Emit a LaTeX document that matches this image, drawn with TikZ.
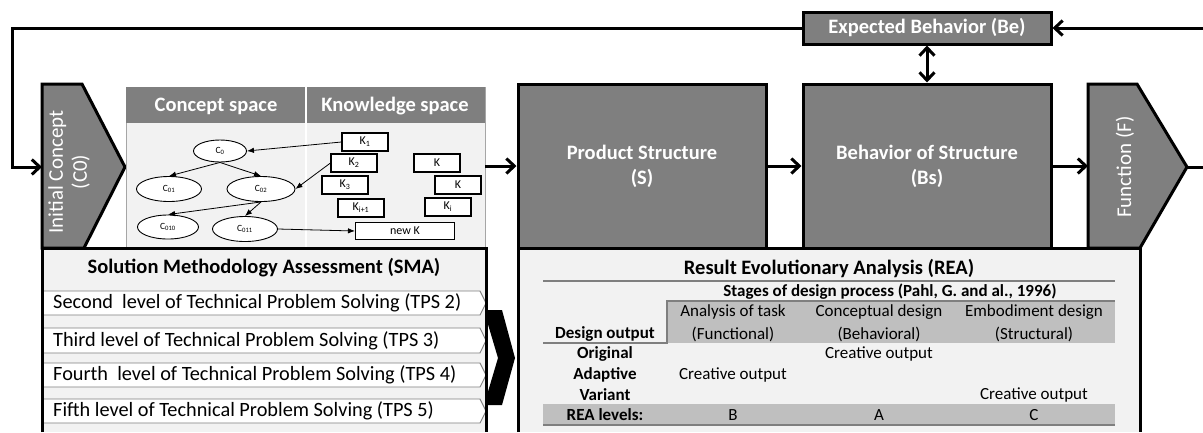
\documentclass[tikz,border=0pt]{standalone}
\usepackage{fontspec}
\setmainfont{Carlito}
\usetikzlibrary{arrows.meta,shapes.geometric}
\definecolor{boxgray}{HTML}{7F7F7F}
\definecolor{panel}{HTML}{F2F2F2}
\definecolor{band}{HTML}{BFBFBF}
\definecolor{rulegray}{HTML}{7F7F7F}
\definecolor{edgegray}{HTML}{A6A6A6}

\begin{document}
\begin{tikzpicture}[x=1pt,y=-1pt,
  heavy/.style={line width=3pt, line join=miter},
  flow/.style={heavy,-{Straight Barb[length=8pt,width=15pt,line width=3pt]}},
  dflow/.style={heavy,{Straight Barb[length=8pt,width=15pt,line width=3pt]}-{Straight Barb[length=8pt,width=15pt,line width=3pt]}},
  gbox/.style={draw, heavy, fill=boxgray, text=white, inner sep=0pt, align=center,
    font=\fontsize{20.5}{25}\selectfont\bfseries},
  vlabel/.style={rotate=90, text=white, align=center, font=\fontsize{21}{24}\selectfont},
  hdr/.style={text=white, font=\fontsize{20.5}{24}\selectfont\bfseries},
  ell/.style={ellipse, draw, line width=0.9pt, fill=white, inner sep=0pt,
    font=\fontsize{9.5}{10}\selectfont},
  kbox/.style={draw, line width=1.1pt, fill=white, inner sep=0pt,
    minimum width=46pt, minimum height=18pt, font=\fontsize{12}{13}\selectfont},
  tarrow/.style={line width=0.8pt, -{Latex[length=7pt,width=5.5pt]}},
  ptitle/.style={font=\fontsize{20.5}{24}\selectfont\bfseries},
  tps/.style={anchor=west, inner sep=0pt, font=\fontsize{20.3}{24}\selectfont},
  bar/.style={draw=rulegray, line width=0.9pt, fill=white},
  tcell/.style={inner sep=0pt, font=\fontsize{17}{20}\selectfont},
  tbold/.style={inner sep=0pt, font=\fontsize{17}{20}\selectfont\bfseries},
  trule/.style={draw=rulegray, line width=2pt}
]
\useasboundingbox (0,0) rectangle (1203,432);

% ---------- top row: boxes ----------
\node[gbox, minimum width=248pt, minimum height=32pt] (be) at (927,28) {Expected Behavior (Be)};
\node[gbox, minimum width=248pt, minimum height=164pt] (ps) at (642,166) {Product Structure\\(S)};
\node[gbox, minimum width=248pt, minimum height=164pt] (bs) at (927,166) {Behavior of Structure\\(Bs)};

% initial concept tag
\draw[heavy, fill=boxgray] (42,84) -- (82,84) -- (125,167) -- (84,248) -- (42,248) -- cycle;
\coordinate (icin) at (42,167);
\node[vlabel] (ictext) at (69,172) {Initial Concept\\(C0)};

% function tag
\draw[heavy, fill=boxgray] (1088,84) -- (1137,84) -- (1187,167) -- (1140,248) -- (1088,248) -- cycle;
\coordinate (fin) at (1088,166);
\coordinate (fpt) at (1187,167);
\coordinate (fout) at (1203,167);
\node[vlabel] (ftext) at (1125,167) {Function (F)};

% ---------- concept / knowledge space panel ----------
\node[draw=edgegray, line width=0.8pt, fill=panel, minimum width=359pt, minimum height=161pt,
  inner sep=0pt] (cpanel) at (305.5,167.5) {};
\fill[boxgray] (126,87) rectangle (485,123);
\draw[white, line width=1.5pt] (306,87) -- (306,247);
\node[hdr] (cs) at (216,106) {Concept space};
\node[hdr] (ks) at (395,106) {Knowledge space};

\node[ell, minimum width=53pt, minimum height=22pt] (c0) at (220,151) {C\textsubscript{0}};
\node[ell, minimum width=65pt, minimum height=25pt] (c01) at (169,189) {C\textsubscript{01}};
\node[ell, minimum width=68pt, minimum height=25pt] (c02) at (261,189) {C\textsubscript{02}};
\node[ell, minimum width=61pt, minimum height=24pt] (c010) at (168,227) {C\textsubscript{010}};
\node[ell, minimum width=65pt, minimum height=25pt] (c011) at (245,229) {C\textsubscript{011}};

\node[kbox] (k1) at (365,142) {K\textsubscript{1}};
\node[kbox] (k2) at (354,163) {K\textsubscript{2}};
\node[kbox] (k3) at (345,185) {K\textsubscript{3}};
\node[kbox] (kip) at (361,208) {K\textsubscript{i+1}};
\node[kbox] (ka) at (437,163) {K};
\node[kbox] (kb) at (458,185) {K};
\node[kbox] (ki) at (448,207) {K\textsubscript{i}};
\node[kbox, minimum width=99pt, minimum height=17pt] (newk) at (405,231) {new K};

\draw[tarrow] (k1.west) -- (c0.east);
\draw[tarrow] (k2.west) -- (c02.east);
\draw[tarrow] (c0.south) -- (c01.north);
\draw[tarrow] (c0.south) -- (c02.north);
\draw[tarrow] (c02.south) -- (c010.north);
\draw[tarrow] (c02.south) -- (c011.north);
\draw[tarrow] (c011.east) -- (newk.west);

% ---------- main connectors ----------
\coordinate (lc) at (12,28);
\coordinate (rin) at (1203,28);
\coordinate (cpo) at (485,166);
\draw[flow] (be.west) -- (lc) |- (icin);
\draw[flow] (rin) -- (be.east);
\draw[dflow] (be.south) -- (bs.north);
\draw[flow] (cpo) -- (ps.west);
\draw[flow] (ps.east) -- (bs.west);
\draw[flow] (bs.east) -- (fin);
\draw[heavy] (fpt) -- (fout);

% ---------- solution methodology assessment ----------
\fill[panel] (42,248) rectangle (486,432);
\node[ptitle] (smat) at (264,268) {Solution Methodology Assessment (SMA)};
\foreach \t/\b in {291/315, 328/353, 363/387, 399/423}
  \draw[bar] (42,\t) -- (480,\t) -- (486,{(\t+\b)/2}) -- (480,\b) -- (42,\b);
\node[tps] (tps2) at (53,303) {Second\ \ level of Technical Problem Solving (TPS 2)};
\node[tps] (tps3) at (53,340.5) {Third level of Technical Problem Solving (TPS 3)};
\node[tps] (tps4) at (53,375) {Fourth\ \ level of Technical Problem Solving (TPS 4)};
\node[tps] (tps5) at (53,411) {Fifth level of Technical Problem Solving (TPS 5)};
\draw[heavy] (42,432) -- (42,248) -- (486,248) -- (486,432);

% transfer chevron
\fill[black] (487,310) -- (502,310) -- (515,358) -- (502,405) -- (487,405) -- (487,395)
  -- (498,358) -- (487,321) -- cycle;

% ---------- result evolutionary analysis ----------
\fill[panel] (518,248) rectangle (1140,432);
\node[ptitle] (reat) at (829,268) {Result Evolutionary Analysis (REA)};
\fill[band] (667,301) rectangle (1115,343);
\fill[band] (543,404) rectangle (1115,424);
\draw[trule] (543,281) -- (1115,281);
\draw[trule] (543,343) -- (667,343) -- (667,301) -- (1115,301);
\draw[trule] (543,425) -- (1115,425);

\node[tbold] (stages) at (890,292) {Stages of design process (Pahl, G. and al., 1996)};
\node[tcell] (h1a) at (733,312) {Analysis of task};
\node[tcell] (h1b) at (733,334) {(Functional)};
\node[tcell] (h2a) at (879,312) {Conceptual design};
\node[tcell] (h2b) at (879,334) {(Behavioral)};
\node[tcell] (h3a) at (1034,312) {Embodiment design};
\node[tcell] (h3b) at (1034,334) {(Structural)};
\node[tbold] (dout) at (605,334) {Design output};
\node[tbold] (orig) at (605,354) {Original};
\node[tbold] (adap) at (605,375) {Adaptive};
\node[tbold] (vari) at (605,395) {Variant};
\node[tcell] (co1) at (879,354) {Creative output};
\node[tcell] (co2) at (733,375) {Creative output};
\node[tcell] (co3) at (1034,395) {Creative output};
\node[tbold] (lvl) at (605,415) {REA levels:};
\node[tcell] (lb) at (733,415) {B};
\node[tcell] (la) at (879,415) {A};
\node[tcell] (lcc) at (1034,415) {C};
\draw[heavy] (518,432) -- (518,248) -- (1140,248) -- (1140,432);
\end{tikzpicture}
\end{document}
